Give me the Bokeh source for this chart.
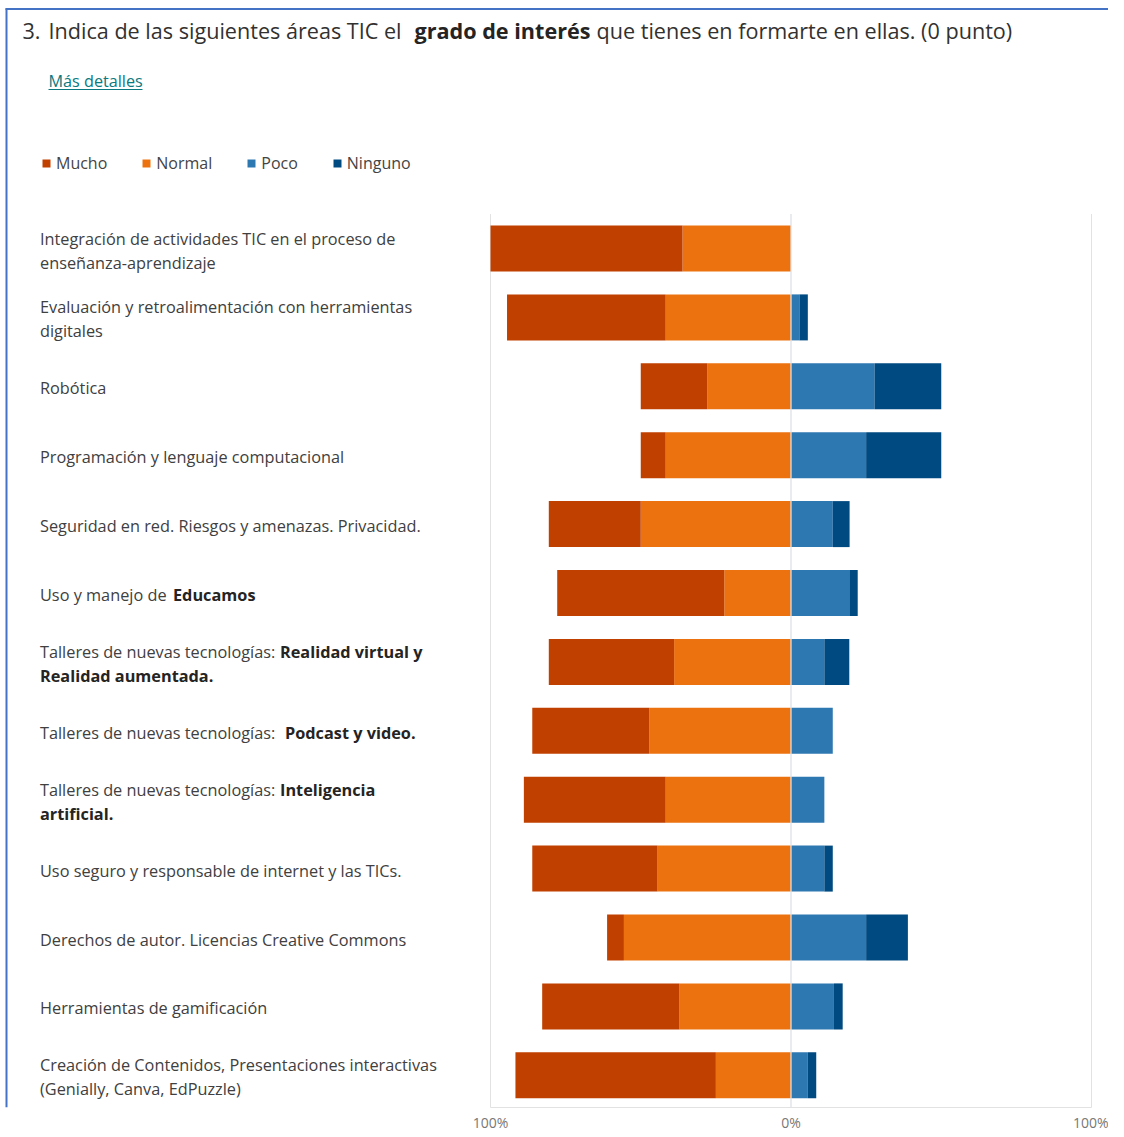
from bokeh.plotting import figure
from bokeh.models import Range1d, FixedTicker, Legend, LegendItem, ColumnDataSource
from bokeh.core.properties import value
from bokeh.embed import file_html
from bokeh.resources import INLINE

# ---------------- data ----------------
categories = [
    "Integración de actividades TIC en el proceso de enseñanza-aprendizaje",
    "Evaluación y retroalimentación con herramientas digitales",
    "Robótica",
    "Programación y lenguaje computacional",
    "Seguridad en red. Riesgos y amenazas. Privacidad.",
    "Uso y manejo de Educamos",
    "Talleres de nuevas tecnologías: Realidad virtual y Realidad aumentada.",
    "Talleres de nuevas tecnologías:  Podcast y  video.",
    "Talleres de nuevas tecnologías: Inteligencia artificial.",
    "Uso seguro y responsable de internet y las TICs.",
    "Derechos de autor. Licencias Creative Commons",
    "Herramientas de gamificación",
    "Creación de Contenidos, Presentaciones interactivas (Genially, Canva, EdPuzzle)",
]
series_names = ["Mucho", "Normal", "Poco", "Ninguno"]
mucho   = [63.9, 52.8, 22.2,  8.3, 30.6, 55.6, 41.7, 38.9, 47.2, 41.7,  5.6, 45.7, 66.7]
normal  = [36.1, 41.7, 27.8, 41.7, 50.0, 22.2, 38.9, 47.2, 41.7, 44.4, 55.6, 37.1, 25.0]
poco    = [ 0.0,  2.8, 27.8, 25.0, 13.9, 19.4, 11.1, 13.9, 11.1, 11.1, 25.0, 14.3,  5.6]
ninguno = [ 0.0,  2.8, 22.2, 25.0,  5.6,  2.8,  8.3,  0.0,  0.0,  2.8, 13.9,  2.9,  2.8]
x_ticks = [-100, 0, 100]
x_tick_labels = ["100%", "0%", "100%"]

# label text split in lines and runs (text, style)
label_runs = [
    [[("Integración de actividades TIC en el proceso de", "normal")], [("enseñanza-aprendizaje", "normal")]],
    [[("Evaluación y retroalimentación con herramientas", "normal")], [("digitales", "normal")]],
    [[("Robótica", "normal")]],
    [[("Programación y lenguaje computacional", "normal")]],
    [[("Seguridad en red. Riesgos y amenazas. Privacidad.", "normal")]],
    [[("Uso y manejo de", "normal"), ("Educamos", "bold")]],
    [[("Talleres de nuevas tecnologías:", "normal"), ("Realidad virtual y", "bold")], [("Realidad aumentada.", "bold")]],
    [[("Talleres de nuevas tecnologías:", "normal"), ("Podcast y  video.", "bold")]],
    [[("Talleres de nuevas tecnologías:", "normal"), ("Inteligencia", "bold")], [("artificial.", "bold")]],
    [[("Uso seguro y responsable de internet y las TICs.", "normal")]],
    [[("Derechos de autor. Licencias Creative Commons", "normal")]],
    [[("Herramientas de gamificación", "normal")]],
    [[("Creación de Contenidos, Presentaciones interactivas", "normal")], [("(Genially, Canva, EdPuzzle)", "normal")]],
]
title_runs = [("3.", "normal"), ("Indica de las siguientes áreas TIC el", "normal"),
              ("grado de interés", "bold"), ("que tienes en formarte en ellas.  (0 punto)", "normal")]
link_text = "Más detalles"

# ---------------- layout / style ----------------
FONT = "Open Sans"
W, FH = 1108, 1107
ZERO_X = 790.5
PX_PER_PCT = 3.005
ROW0_Y = 248.0
ROW_PITCH = 68.9
BAR_H = 46 / ROW_PITCH

C_MUCHO, C_NORMAL, C_POCO, C_NINGUNO = "#C04000", "#EC7210", "#2E78B2", "#004A82"
GRID = "#E2E2E2"
BLUE = "#4472C4"
TXT = "#404040"
TXT_B = "#252423"

LABEL_X = 39.5
RUN_X = {(5, 0, 1): 172.5, (6, 0, 1): 279.5, (7, 0, 1): 284.5, (8, 0, 1): 279.5}
LINE_OFFSETS = {1: [2.0], 2: [-10.0, 14.0]}
TITLE_X = [22, 48, 414, 596]
TITLE_Y = 30


def dx(cx):
    return (cx - ZERO_X) / PX_PER_PCT


def dy(cy):
    return (cy - ROW0_Y) / ROW_PITCH


p = figure(frame_width=W, frame_height=FH,
           x_range=Range1d(dx(0), dx(W)),
           y_range=Range1d(dy(FH), dy(0)),
           output_backend="svg", toolbar_location=None, min_border=0,
           y_axis_location=None, outline_line_color=None,
           background_fill_color="white", border_fill_color="white")
p.grid.visible = False

ax = p.xaxis[0]
ax.ticker = FixedTicker(ticks=x_ticks)
ax.bounds = (x_ticks[0], x_ticks[-1])
ax.major_label_overrides = {t: l for t, l in zip(x_ticks, x_tick_labels)}
ax.axis_line_color = GRID
ax.axis_line_width = 1
ax.major_tick_line_color = None
ax.major_tick_out = 0
ax.major_tick_in = 0
ax.minor_tick_line_color = None
ax.minor_tick_out = 0
ax.major_label_standoff = 5
ax.major_label_text_font = FONT
ax.major_label_text_font_size = "14px"
ax.major_label_text_color = "#777777"

n = len(categories)
src = ColumnDataSource(dict(
    y=list(range(n)),
    mucho_neg=[-v for v in mucho],
    normal_neg=[-v for v in normal],
    poco=poco,
    ninguno=ninguno,
))

# gridlines (under)
p.segment(x0=x_ticks, x1=x_ticks, y0=[-0.5] * len(x_ticks), y1=[n - 0.5] * len(x_ticks),
          line_color=GRID, line_width=1)

neg = p.hbar_stack(["normal_neg", "mucho_neg"], y="y", height=BAR_H,
                   fill_color=[C_NORMAL, C_MUCHO], line_color=None, source=src)
pos = p.hbar_stack(["poco", "ninguno"], y="y", height=BAR_H,
                   fill_color=[C_POCO, C_NINGUNO], line_color=None, source=src)

# zero line over bars
p.segment(x0=[0], x1=[0], y0=[-0.5], y1=[n - 0.5], line_color="#E4E9EF", line_width=1.2)

# legend
renderers = [neg[1], neg[0], pos[0], pos[1]]
legend = Legend(items=[LegendItem(label=value(s), renderers=[r]) for s, r in zip(series_names, renderers)],
                orientation="horizontal", location=(41, FH - 174),
                glyph_width=10, glyph_height=10, label_standoff=5, spacing=34,
                padding=0, border_line_color=None, background_fill_alpha=0,
                label_text_font=FONT, label_text_font_size="16px", label_text_color="#444444",
                label_height=20)
p.add_layout(legend)

# row labels
norm_t = dict(x=[], y=[], text=[])
bold_t = dict(x=[], y=[], text=[])
for i, lines in enumerate(label_runs):
    offs = LINE_OFFSETS[len(lines)]
    for j, line in enumerate(lines):
        for k, (txt, style) in enumerate(line):
            tgt = bold_t if style == "bold" else norm_t
            tgt["x"].append(dx(RUN_X.get((i, j, k), LABEL_X)))
            tgt["y"].append(i + offs[j] / ROW_PITCH)
            tgt["text"].append(txt)

p.text(x="x", y="y", text="text", source=ColumnDataSource(norm_t), text_font=value(FONT),
       text_font_size="16.3px", text_color=TXT, text_baseline="middle", text_align="left")
p.text(x="x", y="y", text="text", source=ColumnDataSource(bold_t), text_font=value(FONT),
       text_font_size="16.3px", text_font_style="bold", text_color=TXT_B,
       text_baseline="middle", text_align="left")

# title
for (txt, style), tx in zip(title_runs, TITLE_X):
    p.text(x=[dx(tx)], y=[dy(TITLE_Y)], text=[txt], text_font=value(FONT), text_font_size="21.6px",
           text_font_style=style, text_color=TXT_B if style == "bold" else "#323130",
           text_baseline="middle", text_align="left")

# link
p.text(x=[dx(48)], y=[dy(80)], text=[link_text], text_font=value(FONT), text_font_size="16.2px",
       text_color="#0A7A80", text_baseline="middle", text_align="left")
p.segment(x0=[dx(48)], x1=[dx(142)], y0=[dy(89)], y1=[dy(89)], line_color="#0A7A80", line_width=1)

# page border
p.segment(x0=[dx(5)], x1=[dx(W)], y0=[dy(8.5)], y1=[dy(8.5)], line_color=BLUE, line_width=2)
p.segment(x0=[dx(6)], x1=[dx(6)], y0=[dy(8)], y1=[dy(FH)], line_color=BLUE, line_width=2)

open("out.html", "w").write(file_html(p, INLINE))
